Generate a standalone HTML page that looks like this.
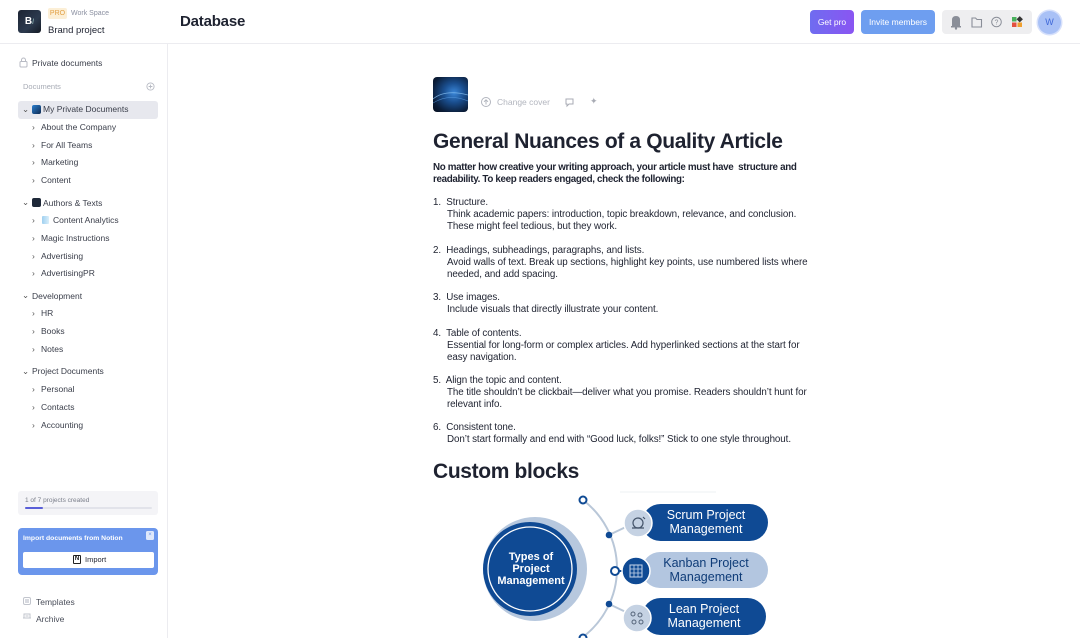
<!DOCTYPE html>
<html><head><meta charset="utf-8">
<style>
*{box-sizing:border-box;margin:0;padding:0}
body{width:1080px;height:638px;overflow:hidden;background:#fff;font-family:"Liberation Sans",sans-serif;color:#1e2230;position:relative}
.abs{position:absolute}
.hdr{position:absolute;left:0;top:0;width:1080px;height:44px;border-bottom:1px solid #ececf0;background:#fff}
.side{position:absolute;left:0;top:44px;width:168px;height:594px;border-right:1px solid #ececf0}
.si{position:absolute;font-size:8.5px;color:#3a3e4a;white-space:nowrap;line-height:10px}
.chev{position:absolute;font-size:8.5px;color:#555;line-height:10px}
.txt{position:absolute;left:433px;white-space:nowrap;font-size:9.8px;line-height:11.9px;color:#1e2230;letter-spacing:-0.08px}
</style></head><body>
<div class="hdr"></div>
<!-- logo -->
<div class="abs" style="left:18px;top:10px;width:23px;height:23px;border-radius:3px;background:linear-gradient(135deg,#1c2433,#2c3a4e 60%,#141a24);color:#fff;font-size:10px;font-weight:bold;line-height:23px;text-align:center">B<span style="font-size:7px;color:#8aa">/</span></div>
<div class="abs" style="left:48px;top:8px;width:19px;height:11px;background:#fcefd6;border-radius:2px;color:#e2a045;font-size:7px;line-height:11px;text-align:center">PRO</div>
<div class="abs" style="left:71px;top:9px;font-size:7px;color:#8a8fa0;line-height:10px">Work Space</div>
<div class="abs" style="left:48px;top:25px;font-size:9.5px;color:#1e2230;line-height:12px">Brand project</div>
<div class="abs" style="left:180px;top:13px;font-size:15px;font-weight:bold;color:#1e2230;line-height:18px;letter-spacing:-0.2px">Database</div>
<!-- header buttons -->
<div class="abs" style="left:810px;top:10px;width:44px;height:24px;border-radius:4px;background:linear-gradient(90deg,#6f6cf0,#8a55f2);color:#fff;font-size:8.5px;line-height:24px;text-align:center">Get pro</div>
<div class="abs" style="left:861px;top:10px;width:74px;height:24px;border-radius:4px;background:#6e9ef0;color:#fff;font-size:8.5px;line-height:24px;text-align:center">Invite members</div>
<div class="abs" style="left:942px;top:10px;width:90px;height:24px;border-radius:4px;background:#eeeef0"></div>
<svg class="abs" style="left:942px;top:10px" width="90" height="24">
 <path d="M10 16 L10 10 Q10 6 14 6 Q18 6 18 10 L18 16 Z" fill="#8a8e98"/><rect x="9" y="16" width="10" height="1.5" fill="#8a8e98"/><circle cx="14" cy="18.5" r="1.2" fill="#8a8e98"/>
 <path d="M30 8 h3.5 l1.5 1.5 h4.5 v7.5 h-9.5 z" fill="none" stroke="#8a8e98" stroke-width="1.1"/>
 <circle cx="54.5" cy="12" r="4.8" fill="none" stroke="#8a8e98" stroke-width="1"/><text x="54.5" y="14.5" font-size="7" text-anchor="middle" fill="#8a8e98" font-family="Liberation Sans">?</text>
 <rect x="70" y="7" width="4.5" height="4.5" fill="#49b15c"/><rect x="70" y="12.5" width="4.5" height="4.5" fill="#e25040"/><rect x="75.5" y="12.5" width="4.5" height="4.5" fill="#f0a030"/><rect x="75.5" y="7" width="4.5" height="4.5" fill="#333" transform="rotate(45 77.75 9.25)"/>
</svg>
<div class="abs" style="left:1038px;top:11px;width:23px;height:23px;border-radius:50%;background:#a9c1f6;box-shadow:0 0 0 1.5px #d6e0fb;color:#3f68d8;font-size:9px;line-height:23px;text-align:center">W</div>

<!-- sidebar -->
<div class="side"></div>
<svg class="abs" style="left:19px;top:57px" width="9" height="11"><rect x="1" y="4.5" width="7" height="5.5" rx="1" fill="none" stroke="#b8bbc4" stroke-width="1"/><path d="M2.5 4.5 V3 a2 2 0 0 1 4 0 V4.5" fill="none" stroke="#b8bbc4" stroke-width="1"/></svg>
<div class="si" style="left:32px;top:58px;color:#3a3e4a">Private documents</div>
<div class="si" style="left:23px;top:82px;font-size:7.5px;color:#a6aab4">Documents</div>
<svg class="abs" style="left:146px;top:82px" width="9" height="9"><circle cx="4.5" cy="4.5" r="3.6" fill="none" stroke="#b8bbc4" stroke-width="0.9"/><path d="M4.5 2.6v3.8M2.6 4.5h3.8" stroke="#b8bbc4" stroke-width="0.9"/></svg>
<div class="abs" style="left:18px;top:101px;width:140px;height:18px;background:#e7e8ee;border-radius:3px"></div>
<div class="chev" style="left:22px;top:104px">&#8964;</div>
<div class="abs" style="left:32px;top:105px;width:9px;height:9px;border-radius:2px;background:linear-gradient(135deg,#2a7fd0,#0f2a50)"></div>
<div class="si" style="left:43px;top:104px">My Private Documents</div>
<div class="chev" style="left:32px;top:122px">&#8250;</div><div class="si" style="left:41px;top:122px">About the Company</div>
<div class="chev" style="left:32px;top:140px">&#8250;</div><div class="si" style="left:41px;top:140px">For All Teams</div>
<div class="chev" style="left:32px;top:157px">&#8250;</div><div class="si" style="left:41px;top:157px">Marketing</div>
<div class="chev" style="left:32px;top:175px">&#8250;</div><div class="si" style="left:41px;top:175px">Content</div>
<div class="chev" style="left:22px;top:197px">&#8964;</div>
<div class="abs" style="left:32px;top:198px;width:9px;height:9px;border-radius:2px;background:#1e2838"></div>
<div class="si" style="left:43px;top:198px">Authors &amp; Texts</div>
<div class="chev" style="left:32px;top:215px">&#8250;</div>
<div class="abs" style="left:42px;top:216px;width:7px;height:8px;border-radius:1px;background:linear-gradient(90deg,#9fd0f0,#d9eefa)"></div>
<div class="si" style="left:53px;top:215px">Content Analytics</div>
<div class="chev" style="left:32px;top:233px">&#8250;</div><div class="si" style="left:41px;top:233px">Magic Instructions</div>
<div class="chev" style="left:32px;top:251px">&#8250;</div><div class="si" style="left:41px;top:251px">Advertising</div>
<div class="chev" style="left:32px;top:268px">&#8250;</div><div class="si" style="left:41px;top:268px">AdvertisingPR</div>
<div class="chev" style="left:22px;top:290px">&#8964;</div><div class="si" style="left:32px;top:291px">Development</div>
<div class="chev" style="left:32px;top:308px">&#8250;</div><div class="si" style="left:41px;top:308px">HR</div>
<div class="chev" style="left:32px;top:326px">&#8250;</div><div class="si" style="left:41px;top:326px">Books</div>
<div class="chev" style="left:32px;top:344px">&#8250;</div><div class="si" style="left:41px;top:344px">Notes</div>
<div class="chev" style="left:22px;top:366px">&#8964;</div><div class="si" style="left:32px;top:366px">Project Documents</div>
<div class="chev" style="left:32px;top:384px">&#8250;</div><div class="si" style="left:41px;top:384px">Personal</div>
<div class="chev" style="left:32px;top:402px">&#8250;</div><div class="si" style="left:41px;top:402px">Contacts</div>
<div class="chev" style="left:32px;top:420px">&#8250;</div><div class="si" style="left:41px;top:420px">Accounting</div>

<div class="abs" style="left:18px;top:491px;width:140px;height:24px;background:#f4f4f7;border-radius:3px"></div>
<div class="si" style="left:25px;top:496px;font-size:6.5px;color:#7a7e8a">1 of 7 projects created</div>
<div class="abs" style="left:25px;top:507px;width:127px;height:2px;background:#e2e3ea;border-radius:1px"></div>
<div class="abs" style="left:25px;top:507px;width:18px;height:2px;background:#5a5fd8;border-radius:1px"></div>

<div class="abs" style="left:18px;top:528px;width:140px;height:47px;background:#6b96ec;border-radius:4px"></div>
<div class="si" style="left:23px;top:534px;font-size:6.8px;font-weight:bold;color:#fff">Import documents from Notion</div>
<div class="abs" style="left:146px;top:531px;width:8px;height:9px;background:#dfe8fb;border-radius:1.5px;color:#6b96ec;font-size:6px;line-height:9px;text-align:center">×</div>
<div class="abs" style="left:23px;top:552px;width:131px;height:16px;background:#fff;border-radius:2px"></div>
<div class="abs" style="left:73px;top:555px;width:8px;height:9px;border:1px solid #222;border-radius:1px;font-size:6px;font-weight:bold;line-height:7px;text-align:center;color:#111">N</div>
<div class="si" style="left:85px;top:555px;font-size:7.5px;color:#1e2230">Import</div>

<svg class="abs" style="left:22px;top:596px" width="10" height="28"><rect x="1.5" y="1.5" width="7" height="7" rx="1.5" fill="none" stroke="#c2c5cd" stroke-width="1"/><rect x="3" y="3" width="4" height="4" fill="#d8dae0"/><path d="M1 22 h8 M2 22 v-4 h6 v4 M3.5 20 h3" fill="none" stroke="#c2c5cd" stroke-width="1"/></svg>
<div class="si" style="left:36px;top:597px;color:#4a4e5a">Templates</div>
<div class="si" style="left:36px;top:614px;color:#4a4e5a">Archive</div>

<!-- cover & tools -->
<div class="abs" style="left:433px;top:77px;width:35px;height:35px;border-radius:4px;background:radial-gradient(ellipse at 60% 45%,#3a86d8 0%,#1a4f90 35%,#0b1d38 75%,#070f1e 100%)"></div>
<svg class="abs" style="left:433px;top:77px" width="35" height="35"><path d="M0 22 Q12 12 35 18" stroke="#8cc4f4" stroke-width="0.8" fill="none" opacity="0.8"/><path d="M0 26 Q16 16 35 24" stroke="#5da0e6" stroke-width="0.6" fill="none" opacity="0.7"/></svg>
<svg class="abs" style="left:480px;top:96px" width="12" height="12"><circle cx="6" cy="6" r="4.5" fill="none" stroke="#b2b5be" stroke-width="1"/><path d="M6 8.5 v-4.5 M4 5.8 l2-2 2 2" fill="none" stroke="#b2b5be" stroke-width="1"/></svg>
<div class="si" style="left:497px;top:97px;font-size:8.5px;color:#b2b5be">Change cover</div>
<svg class="abs" style="left:564px;top:96px" width="12" height="12"><path d="M2 3 h7 v5 h-4 l-2 2 v-2 h-1 z" fill="none" stroke="#a8abb4" stroke-width="1"/></svg>
<div class="abs" style="left:590px;top:95px;font-size:9px;color:#a8abb4;line-height:12px">✦</div>

<!-- article -->
<div class="abs" style="left:433px;top:129px;font-size:21px;font-weight:bold;line-height:26px;color:#1e2230;white-space:nowrap;letter-spacing:-0.35px">General Nuances of a Quality Article</div>
<div class="txt" style="top:162px;font-weight:bold;letter-spacing:-0.33px">No matter how creative your writing approach, your article must have&nbsp; structure and<br>readability. To keep readers engaged, check the following:</div>

<div class="txt" style="top:197px">1.&nbsp; Structure.</div>
<div class="txt" style="top:209px;left:447px">Think academic papers: introduction, topic breakdown, relevance, and conclusion.<br>These might feel tedious, but they work.</div>
<div class="txt" style="top:245px">2.&nbsp; Headings, subheadings, paragraphs, and lists.</div>
<div class="txt" style="top:257px;left:447px">Avoid walls of text. Break up sections, highlight key points, use numbered lists where<br>needed, and add spacing.</div>
<div class="txt" style="top:292px">3.&nbsp; Use images.</div>
<div class="txt" style="top:304px;left:447px">Include visuals that directly illustrate your content.</div>
<div class="txt" style="top:328px">4.&nbsp; Table of contents.</div>
<div class="txt" style="top:340px;left:447px">Essential for long-form or complex articles. Add hyperlinked sections at the start for<br>easy navigation.</div>
<div class="txt" style="top:375px">5.&nbsp; Align the topic and content.</div>
<div class="txt" style="top:387px;left:447px">The title shouldn’t be clickbait—deliver what you promise. Readers shouldn’t hunt for<br>relevant info.</div>
<div class="txt" style="top:422px">6.&nbsp; Consistent tone.</div>
<div class="txt" style="top:434px;left:447px">Don’t start formally and end with “Good luck, folks!” Stick to one style throughout.</div>

<div class="abs" style="left:433px;top:459px;font-size:21px;font-weight:bold;line-height:26px;color:#1e2230;white-space:nowrap;letter-spacing:-0.35px">Custom blocks</div>

<!-- diagram -->
<svg class="abs" style="left:440px;top:488px" width="340" height="150" viewBox="440 488 340 150">
 <line x1="620" y1="492" x2="716" y2="492" stroke="#eef0f3" stroke-width="1"/>
 <path d="M583 500 A86 86 0 0 1 583 637" fill="none" stroke="#b9c7d8" stroke-width="2"/>
 <circle cx="535" cy="569" r="52" fill="#b7c8de"/>
 <circle cx="530" cy="569" r="47" fill="#0f4a94"/>
 <circle cx="530" cy="569" r="42" fill="none" stroke="#fff" stroke-width="1.3"/>
 <text x="531" y="560" font-family="Liberation Sans" font-size="11" font-weight="bold" fill="#fff" text-anchor="middle">Types of</text>
 <text x="531" y="572" font-family="Liberation Sans" font-size="11" font-weight="bold" fill="#fff" text-anchor="middle">Project</text>
 <text x="531" y="584" font-family="Liberation Sans" font-size="11" font-weight="bold" fill="#fff" text-anchor="middle">Management</text>
 <!-- connectors -->
 <line x1="609" y1="535" x2="630" y2="525" stroke="#b9c7d8" stroke-width="2"/>
 <line x1="615" y1="571" x2="628" y2="571" stroke="#0f4a94" stroke-width="2"/>
 <line x1="609" y1="604" x2="630" y2="614" stroke="#b9c7d8" stroke-width="2"/>
 <!-- pills -->
 <rect x="642" y="504" width="126" height="37" rx="18.5" fill="#0f4a94"/>
 <rect x="642" y="552" width="126" height="36" rx="18" fill="#b3c6e0"/>
 <rect x="642" y="598" width="124" height="37" rx="18.5" fill="#0f4a94"/>
 <text x="706" y="519" font-family="Liberation Sans" font-size="12.5" fill="#fff" text-anchor="middle">Scrum Project</text>
 <text x="706" y="533" font-family="Liberation Sans" font-size="12.5" fill="#fff" text-anchor="middle">Management</text>
 <text x="706" y="567" font-family="Liberation Sans" font-size="12.5" fill="#0f3c78" text-anchor="middle">Kanban Project</text>
 <text x="706" y="581" font-family="Liberation Sans" font-size="12.5" fill="#0f3c78" text-anchor="middle">Management</text>
 <text x="704" y="613" font-family="Liberation Sans" font-size="12.5" fill="#fff" text-anchor="middle">Lean Project</text>
 <text x="704" y="627" font-family="Liberation Sans" font-size="12.5" fill="#fff" text-anchor="middle">Management</text>
 <!-- icon circles -->
 <circle cx="638" cy="523" r="14" fill="#c5d2e3" stroke="#fff" stroke-width="1.5"/>
 <circle cx="638" cy="523" r="5" fill="none" stroke="#44546a" stroke-width="1.2"/><path d="M632 528 h12 M643 517 l2 2" stroke="#44546a" stroke-width="1.2"/>
 <circle cx="636" cy="571" r="14" fill="#0f4a94" stroke="#fff" stroke-width="1.5"/>
 <rect x="630" y="565" width="12" height="12" fill="none" stroke="#c8d6ea" stroke-width="1"/><path d="M634 565v12M638 565v12M630 569h12M630 573h12" stroke="#c8d6ea" stroke-width="0.8"/>
 <circle cx="637" cy="618" r="14" fill="#c5d2e3" stroke="#fff" stroke-width="1.5"/>
 <circle cx="633" cy="614" r="2" fill="none" stroke="#55657a" stroke-width="1"/><circle cx="640" cy="615" r="2" fill="none" stroke="#55657a" stroke-width="1"/><circle cx="641" cy="622" r="2" fill="none" stroke="#55657a" stroke-width="1"/><circle cx="634" cy="622" r="2" fill="none" stroke="#55657a" stroke-width="1"/>
 <!-- nodes -->
 <circle cx="583" cy="500" r="3.5" fill="#fff" stroke="#0f4a94" stroke-width="2"/>
 <circle cx="609" cy="535" r="3.3" fill="#0f4a94"/>
 <circle cx="615" cy="571" r="4" fill="#fff" stroke="#0f4a94" stroke-width="2"/>
 <circle cx="609" cy="604" r="3.3" fill="#0f4a94"/>
 <circle cx="583" cy="638" r="3.5" fill="#fff" stroke="#0f4a94" stroke-width="2"/>
</svg>
</body></html>
